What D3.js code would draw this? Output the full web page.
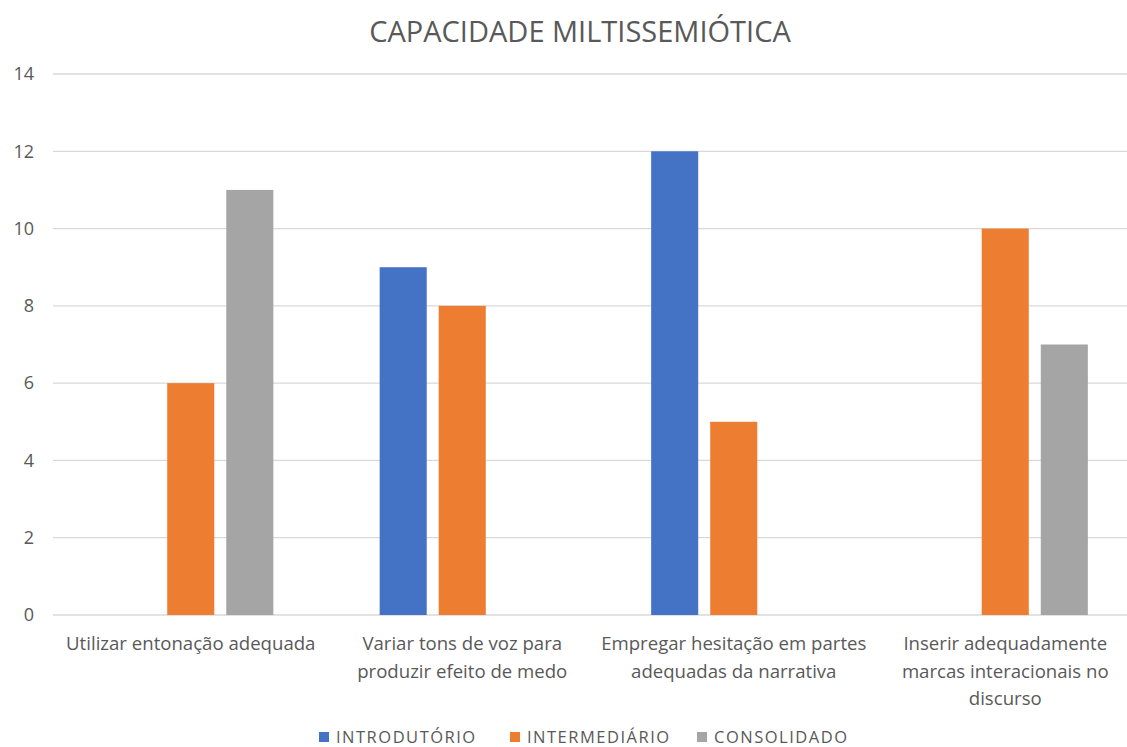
<!DOCTYPE html>
<html>
<head>
<meta charset="utf-8">
<script src="https://cdn.jsdelivr.net/npm/d3@7"></script>
<style>
  body { margin: 0; background: #fff; }
  text { font-family: "Open Sans", sans-serif; fill: #595959; }
</style>
</head>
<body>
<svg id="chart" width="1127" height="747"></svg>
<script>
// categories and series
const categories = [
  "Utilizar entonação adequada",
  "Variar tons de voz para produzir efeito de medo",
  "Empregar hesitação em partes adequadas da narrativa",
  "Inserir adequadamente marcas interacionais no discurso"
];
const categoryLines = [
  ["Utilizar entonação adequada"],
  ["Variar tons de voz para", "produzir efeito de medo"],
  ["Empregar hesitação em partes", "adequadas da narrativa"],
  ["Inserir adequadamente", "marcas interacionais no", "discurso"]
];
const seriesNames = ["INTRODUTÓRIO", "INTERMEDIÁRIO", "CONSOLIDADO"];
const seriesColors = ["#4472c4", "#ed7d31", "#a5a5a5"];
const introdutorio = [0, 9, 12, 0];
const intermediario = [6, 8, 5, 10];
const consolidado = [11, 0, 0, 7];
const yTicks = [0, 2, 4, 6, 8, 10, 12, 14];

const series = [introdutorio, intermediario, consolidado];

const svg = d3.select("#chart");
const plotLeft = 55, plotRight = 1141, plotTop = 74, plotBottom = 615;

let x0 = d3.scaleBand().domain(categories).range([plotLeft, plotRight]).padding(0);
let x1 = d3.scaleBand().domain(seriesNames).range([0, x0.bandwidth()])
  .paddingInner(0.203).paddingOuter(0.9);
let y = d3.scaleLinear().domain([0, 14]).range([plotBottom, plotTop]);

// Title
svg.append("text")
  .attr("x", 580).attr("y", 42)
  .attr("text-anchor", "middle")
  .style("font-size", "29px")
  .text("CAPACIDADE MILTISSEMIÓTICA");

// gridlines
svg.append("g").selectAll("line")
  .data(yTicks)
  .enter().append("line")
    .attr("x1", 53).attr("x2", plotRight)
    .attr("y1", d => y(d)).attr("y2", d => y(d))
    .attr("stroke", "#d9d9d9").attr("stroke-width", 1.3);

// y axis labels
let yAxis = d3.axisLeft(y).tickValues(yTicks).tickSize(0).tickPadding(0);
let yg = svg.append("g").attr("transform", "translate(34,0)").call(yAxis);
yg.select(".domain").remove();
yg.selectAll("text").style("font-size", "18px").style("fill", "#595959")
  .style("font-family", '"Open Sans", sans-serif');

// bars
let groups = svg.append("g").selectAll("g")
  .data(categories)
  .enter().append("g")
    .attr("transform", d => "translate(" + x0(d) + ",0)");

groups.selectAll("rect")
  .data((d, i) => seriesNames.map((s, j) => ({ s: s, v: series[j][i], c: seriesColors[j] })))
  .enter().append("rect")
    .filter(d => d.v > 0)
    .attr("x", d => x1(d.s))
    .attr("width", x1.bandwidth())
    .attr("y", d => y(d.v))
    .attr("height", d => y(0) - y(d.v))
    .attr("fill", d => d.c);

// category labels
categories.forEach(function(c, i) {
  let t = svg.append("text")
    .attr("text-anchor", "middle")
    .style("font-size", "18.6px");
  categoryLines[i].forEach(function(line, k) {
    t.append("tspan")
      .attr("x", x0(c) + x0.bandwidth() / 2)
      .attr("y", 650 + k * 27.5)
      .text(line);
  });
});

// legend
let legendX = [319, 510, 697];
let legend = svg.append("g").selectAll("g")
  .data(seriesNames)
  .enter().append("g")
    .attr("transform", (d, i) => "translate(" + legendX[i] + ",732)");
legend.append("rect")
  .attr("width", 10).attr("height", 10)
  .attr("fill", (d, i) => seriesColors[i]);
legend.append("text")
  .attr("x", 17).attr("y", 10.5)
  .style("font-size", "16.5px")
  .style("letter-spacing", "1.5px")
  .text(d => d);
</script>
</body>
</html>
